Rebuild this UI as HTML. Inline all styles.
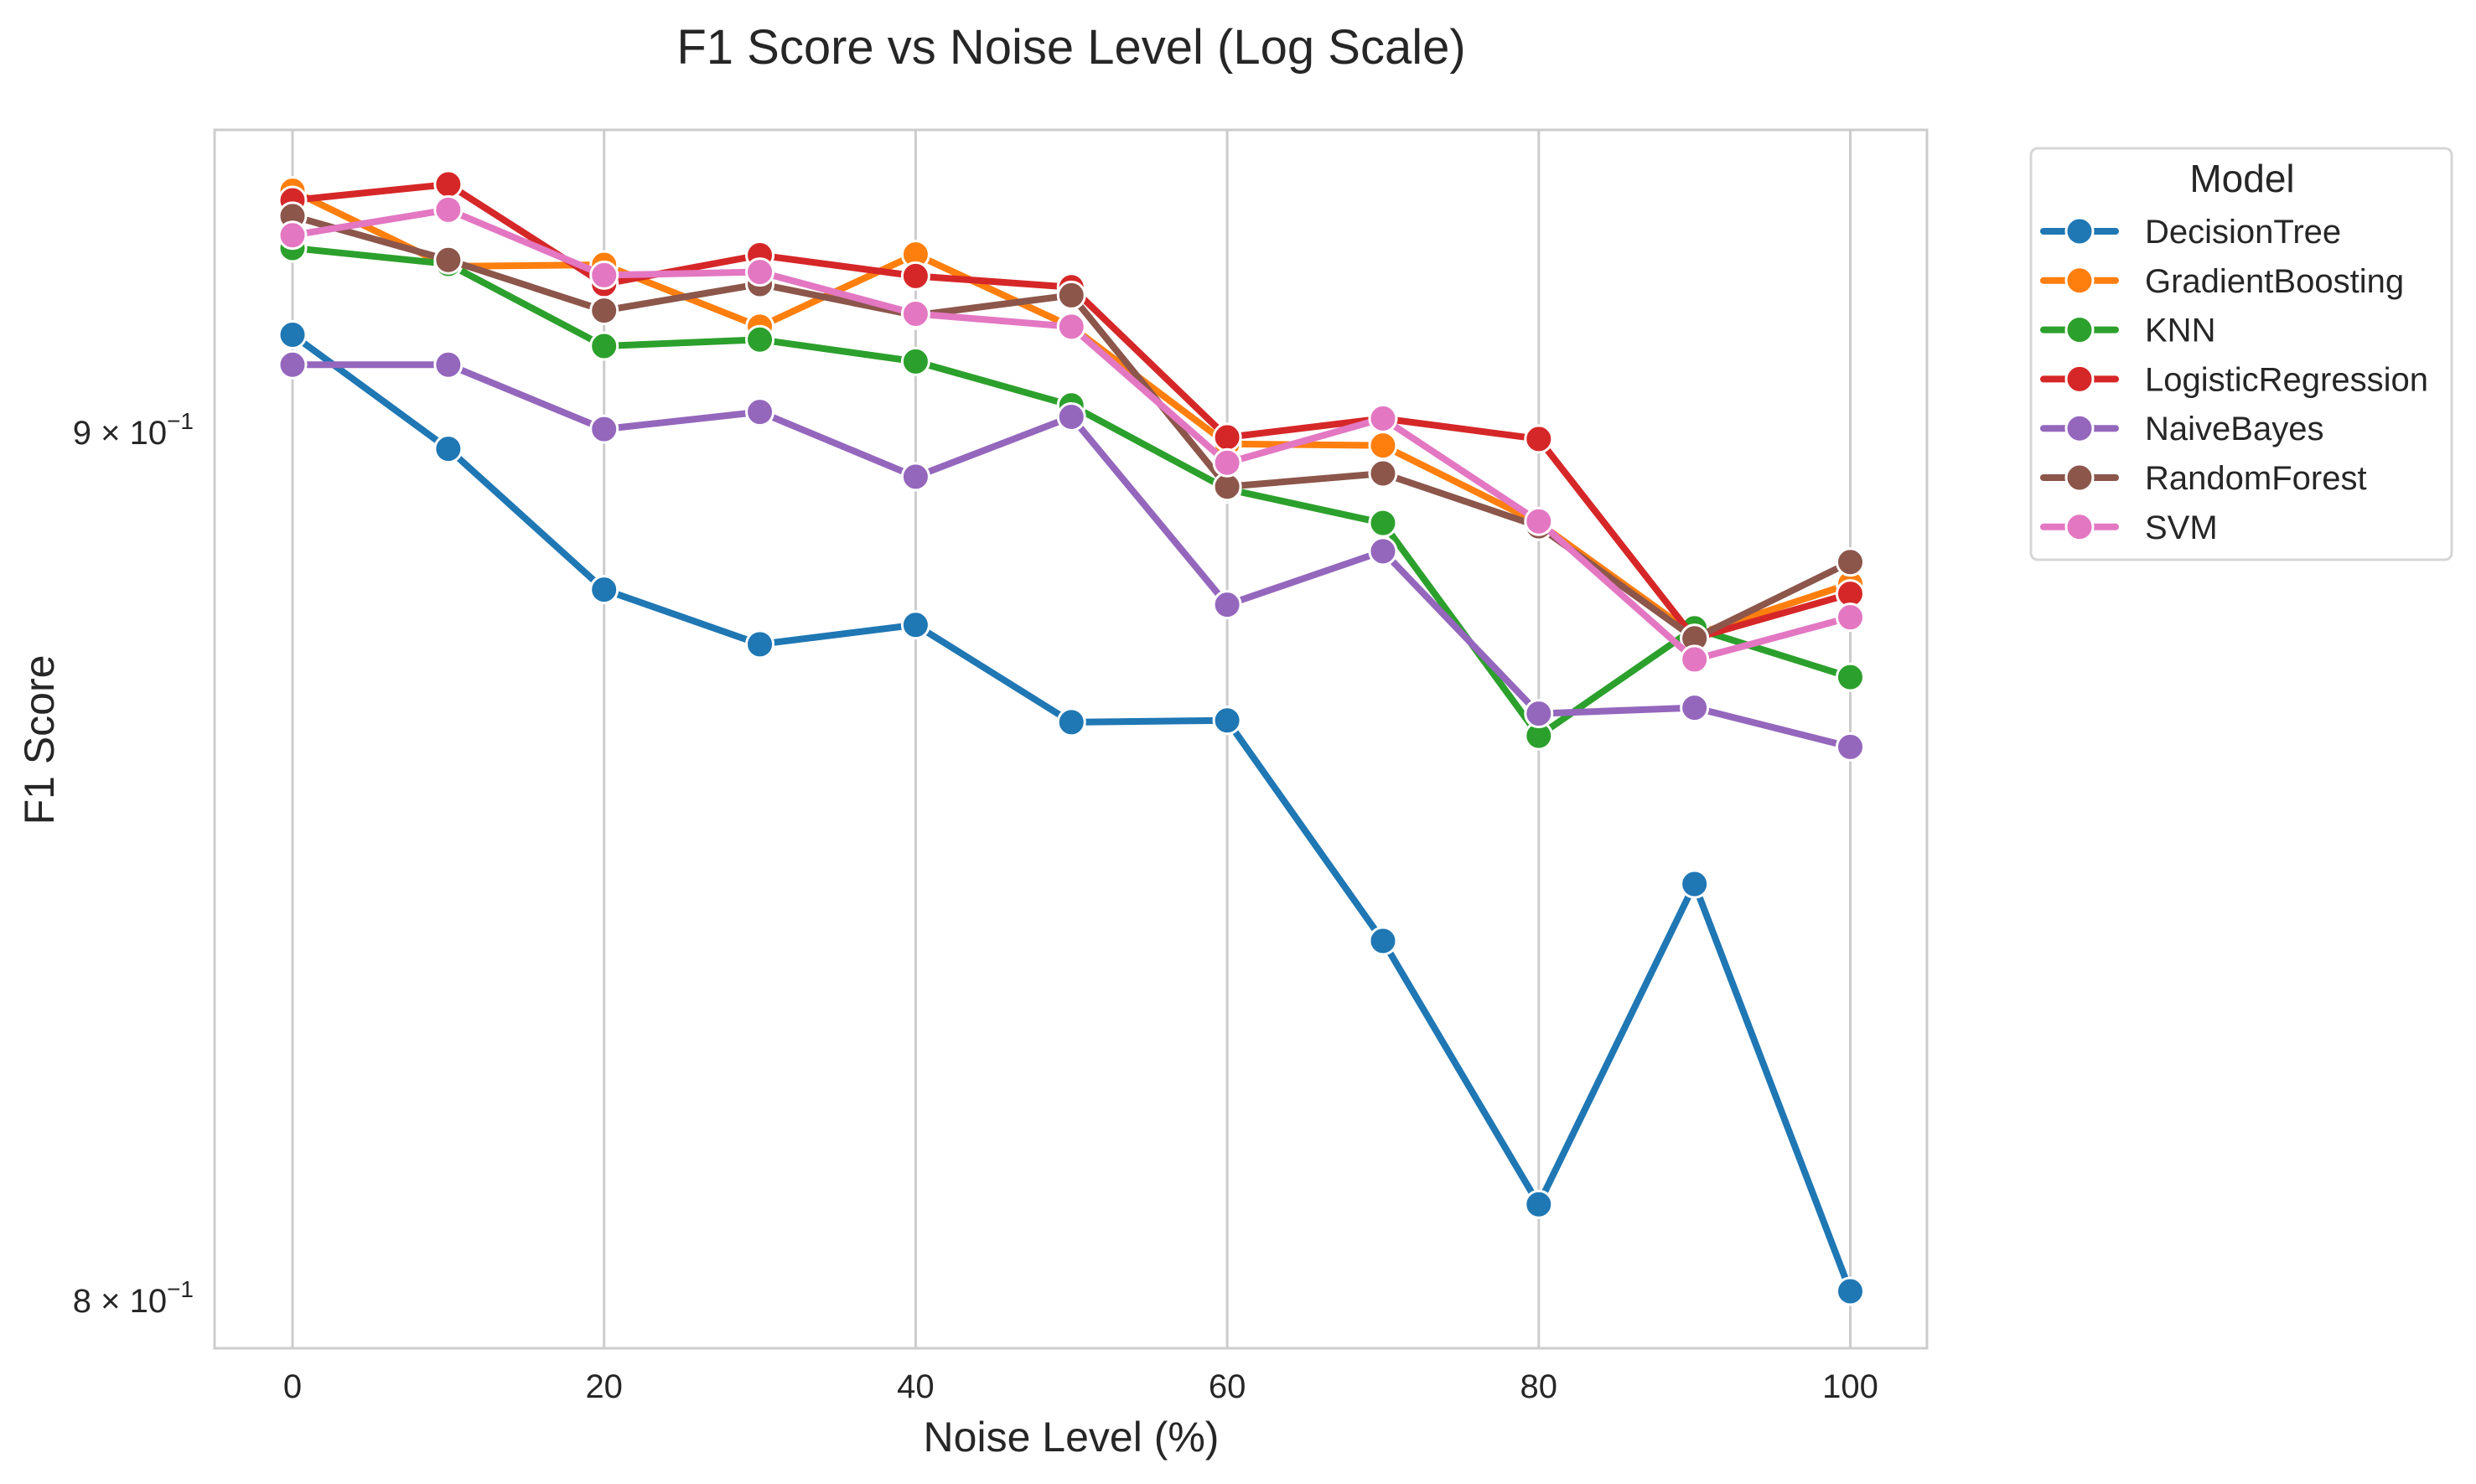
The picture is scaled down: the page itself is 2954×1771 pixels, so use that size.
<!DOCTYPE html>
<html><head><meta charset="utf-8"><style>
html,body{margin:0;padding:0;background:#fff;}
svg{display:block;font-family:"Liberation Sans",Arial,sans-serif;}
</style></head><body>
<svg id="chart" width="2954" height="1771" viewBox="0 0 2954 1771">
<rect x="0" y="0" width="2954" height="1771" fill="#fff"/>
<text x="1278" y="76" font-size="58" text-anchor="middle" fill="#262626">F1 Score vs Noise Level (Log Scale)</text>
<g id="grid"></g>
<g id="axes-g"></g>
<g id="series"></g>
<text x="1278" y="1732" font-size="50" text-anchor="middle" fill="#262626">Noise Level (%)</text>
<text x="0" y="0" font-size="50" text-anchor="middle" fill="#262626" transform="translate(64,883) rotate(-90)">F1 Score</text>
<g id="legend"></g>
</svg>
<script>
const noiseLevels = [0,10,20,30,40,50,60,70,80,90,100];
const xTicks = [0,20,40,60,80,100];
const yTicks = [0.8,0.9];
const yTickLabels = ["8","9"];
const modelNames = ["DecisionTree","GradientBoosting","KNN","LogisticRegression","NaiveBayes","RandomForest","SVM"];
const modelColors = ["#1f77b4","#ff7f0e","#2ca02c","#d62728","#9467bd","#8c564b","#e377c2"];
const decisionTree = [0.912,0.898,0.881,0.8745,0.8768,0.8653,0.8655,0.840,0.8105,0.8465,0.801];
const gradientBoosting = [0.930,0.9205,0.9207,0.913,0.922,0.913,0.8986,0.8984,0.889,0.8756,0.8817];
const knn = [0.9228,0.9208,0.9106,0.9114,0.9087,0.9033,0.8931,0.889,0.8637,0.8764,0.8706];
const logisticRegression = [0.9288,0.9308,0.9183,0.9219,0.9193,0.9179,0.8994,0.9017,0.8992,0.8752,0.8805];
const naiveBayes = [0.9083,0.9083,0.9004,0.9025,0.8946,0.9019,0.8792,0.8856,0.8663,0.867,0.8624];
const randomForest = [0.9268,0.9213,0.915,0.9183,0.9144,0.9169,0.8934,0.895,0.8886,0.8752,0.8843];
const svm = [0.9244,0.9276,0.9194,0.9198,0.9146,0.913,0.8963,0.9017,0.8892,0.8727,0.8777];
const seriesData = [decisionTree,gradientBoosting,knn,logisticRegression,naiveBayes,randomForest,svm];

const NS="http://www.w3.org/2000/svg";
const L=256,R=2299,T=155,B=1609;
const x0px=349,xPerUnit=(2207.5-349)/100;
const y09=516,y08=1552;
const pxPerDec=(y08-y09)/(Math.log10(0.9)-Math.log10(0.8));
function xScale(v){return x0px+v*xPerUnit;}
function yScale(v){return y09+(Math.log10(0.9)-Math.log10(v))*pxPerDec;}
function mk(tag,attrs,parent){const e=document.createElementNS(NS,tag);for(const k in attrs)e.setAttribute(k,attrs[k]);parent.appendChild(e);return e;}

const grid=document.getElementById('grid');
xTicks.forEach(t=>{
  const ln=mk('line',{x1:xScale(t),x2:xScale(t),y1:T,y2:B,stroke:'#cccccc','stroke-width':3},grid);
  
  
  const tx=mk('text',{x:xScale(t),y:1668,'font-size':40,'text-anchor':'middle',fill:'#262626'},grid);
  tx.textContent=t;
  
  
});
yTicks.forEach((t,i)=>{
  const y=yScale(t);
  const tx=mk('text',{x:231,y:y+14,'font-size':40,'text-anchor':'end',fill:'#262626'},grid);
  tx.innerHTML=yTickLabels[i]+' × 10<tspan dy="-18" font-size="28">−1</tspan>';
  
  
});
const ax=document.getElementById('axes-g');
const frame=mk('rect',{x:L,y:T,width:R-L,height:B-T,fill:'none',stroke:'#cccccc','stroke-width':3},ax);



const sg=document.getElementById('series');
seriesData.forEach((vals,si)=>{
  const g=mk('g',{},sg);
  
  
  const pts=vals.map((v,i)=>xScale(noiseLevels[i])+','+yScale(v)).join(' ');
  const pl=mk('polyline',{points:pts,fill:'none',stroke:modelColors[si],'stroke-width':8,'stroke-linejoin':'round','stroke-linecap':'round'},g);
  
  
  vals.forEach((v,i)=>{
    const c=mk('circle',{cx:xScale(noiseLevels[i]),cy:yScale(v),r:16,fill:modelColors[si],stroke:'#fff','stroke-width':3},g);
    
    
  });
});

const lg=document.getElementById('legend');
const box=mk('rect',{x:2423,y:177,width:502,height:491,rx:8,fill:'#fff',stroke:'#d6d6d6','stroke-width':3},lg);


const lt=mk('text',{x:2675,y:229,'font-size':46,'text-anchor':'middle',fill:'#262626'},lg);
lt.textContent='Model';


modelNames.forEach((n,i)=>{
  const y=276+i*58.8;
  const g=mk('g',{},lg);
  
  
  mk('line',{x1:2438,x2:2524,y1:y,y2:y,stroke:modelColors[i],'stroke-width':8,'stroke-linecap':'round'},g);
  mk('circle',{cx:2481,cy:y,r:16,fill:modelColors[i],stroke:'#fff','stroke-width':3},g);
  const t=mk('text',{x:2559,y:y+14,'font-size':40,fill:'#262626'},g);
  t.textContent=n;
});
</script>
</body></html>
